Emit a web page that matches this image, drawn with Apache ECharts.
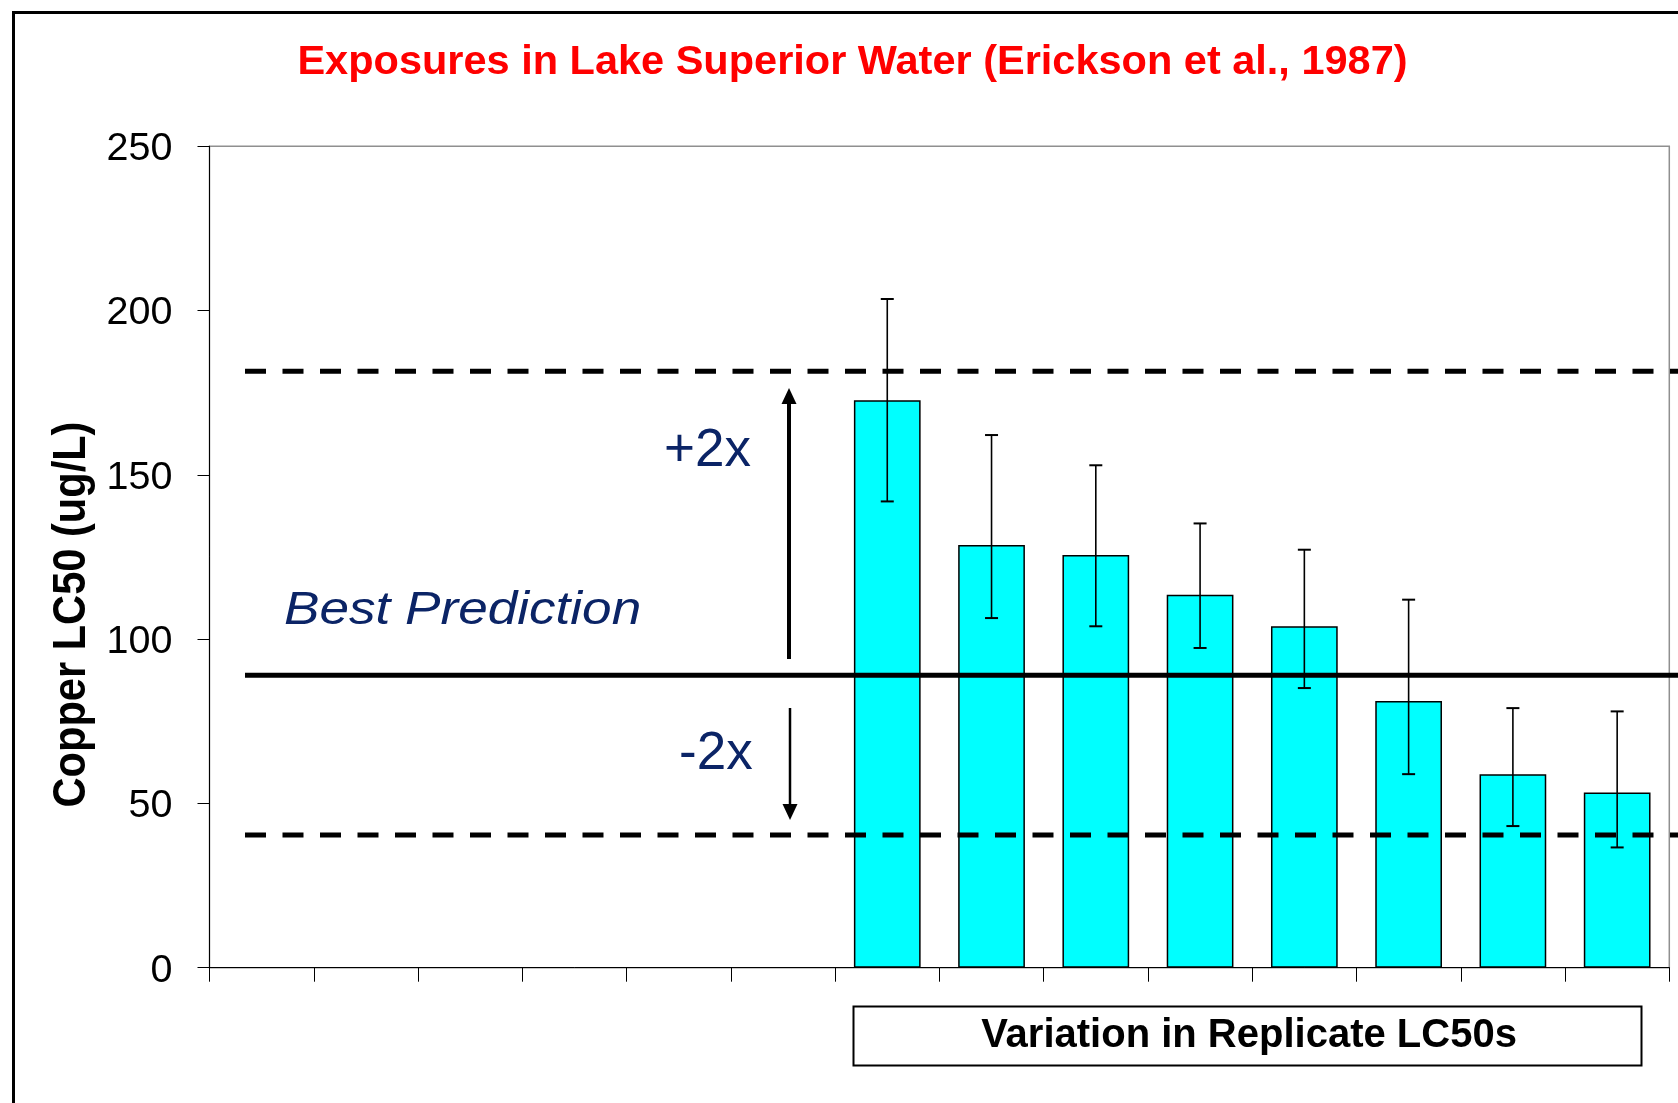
<!DOCTYPE html>
<html><head><meta charset="utf-8">
<script src="https://cdn.jsdelivr.net/npm/echarts@6/dist/echarts.min.js"></script>
<style>html,body{margin:0;padding:0;background:#fff;}#c{width:1678px;height:1103px;}</style>
</head><body><div id="c"></div>
<script>
// ---- data ----
const categories = ['1','2','3','4','5','6','7','8','9','10','11','12','13','14'];
const lc50    = [null,null,null,null,null,null,172.7,128.6,125.6,113.5,103.9,81.2,58.9,53.3];
const errHigh = [null,null,null,null,null,null,203.5,162.1,152.9,135.2,127.2,112.0,79.0,78.0];
const errLow  = [null,null,null,null,null,null,141.9,106.4,103.9,97.3,85.1,58.9,43.1,36.6];
const bestPrediction = 89.0;
const upperBound = 181.5;   // +2x
const lowerBound = 40.4;    // -2x
const yMin = 0, yMax = 250, yStep = 50;
const titleText = 'Exposures in Lake Superior Water (Erickson et al., 1987)';
const yAxisTitle = 'Copper LC50 (ug/L)';
const xAxisTitle = 'Variation in Replicate LC50s';

const FONT = 'Arial, "Liberation Sans", Helvetica, sans-serif';
const NAVY = '#0b2466';

const errData = [];
categories.forEach((c, i) => {
  if (errLow[i] != null && errHigh[i] != null) errData.push([i, errLow[i], errHigh[i]]);
});

const chart = echarts.init(document.getElementById('c'), null, {renderer: 'canvas'});

const option = {
  animation: false,
  backgroundColor: '#fff',
  grid: {left: 209.5, right: 8.7, top: 146.2, bottom: 135.3, show: true,
         borderColor: '#8f8f8f', borderWidth: 1.5, backgroundColor: 'transparent'},
  xAxis: {
    type: 'category', data: categories, boundaryGap: true,
    axisLine: {show: true, lineStyle: {color: '#000', width: 1}},
    axisTick: {show: true, length: 14, lineStyle: {color: '#000', width: 1}},
    axisLabel: {show: false}, splitLine: {show: false}
  },
  yAxis: {
    type: 'value', min: yMin, max: yMax, interval: yStep,
    axisLine: {show: true, lineStyle: {color: '#000', width: 1}},
    axisTick: {show: true, length: 12, lineStyle: {color: '#000', width: 1}},
    axisLabel: {show: true, fontSize: 39.5, fontFamily: FONT, color: '#000', margin: 37,
                verticalAlign: 'top', lineHeight: 6},
    splitLine: {show: false}
  },
  series: [
    {
      type: 'bar', data: lc50, barWidth: '64%', z: 2,
      itemStyle: {color: '#00ffff', borderColor: '#000', borderWidth: 1.5}
    },
    {
      type: 'custom', data: errData, z: 3,
      encode: {x: 0, y: [1, 2]},
      renderItem: function (params, api) {
        const x = api.value(0);
        const pLo = api.coord([x, api.value(1)]);
        const pHi = api.coord([x, api.value(2)]);
        const cap = 6.5;
        return {type: 'group', children: [
          {type: 'line', shape: {x1: pHi[0], y1: pHi[1], x2: pLo[0], y2: pLo[1]}, style: {stroke: '#000', lineWidth: 1.6}},
          {type: 'line', shape: {x1: pHi[0]-cap, y1: pHi[1], x2: pHi[0]+cap, y2: pHi[1]}, style: {stroke: '#000', lineWidth: 2}},
          {type: 'line', shape: {x1: pLo[0]-cap, y1: pLo[1], x2: pLo[0]+cap, y2: pLo[1]}, style: {stroke: '#000', lineWidth: 2}}
        ]};
      }
    }
  ]
};
chart.setOption(option);

const yPix = v => chart.convertToPixel({yAxisIndex: 0}, v);
const yBest = yPix(bestPrediction), yUp = yPix(upperBound), yLo = yPix(lowerBound);
const lineX0 = 245, lineX1 = 1678;

const graphics = [
  // outer frame
  {type: 'rect', z: 100, shape: {x: 13.5, y: 12.5, width: 2000, height: 2000},
   style: {fill: 'none', stroke: '#000', lineWidth: 3}},
  // title
  {type: 'text', z: 100, x: 852.5, y: 62.5,
   style: {text: titleText, font: 'bold 41.5px ' + FONT, fill: '#ff0000', textAlign: 'center', textVerticalAlign: 'middle'}},
  // y axis title
  {type: 'text', z: 100, x: 72.5, y: 614.5, rotation: Math.PI / 2, scaleX: 0.885,
   style: {text: yAxisTitle, font: 'bold 47px ' + FONT, fill: '#000', textAlign: 'center', textVerticalAlign: 'middle'}},
  // x axis title box
  {type: 'rect', z: 100, shape: {x: 853.5, y: 1006.5, width: 788, height: 59},
   style: {fill: '#fff', stroke: '#000', lineWidth: 2}},
  {type: 'text', z: 101, x: 1249, y: 1036,
   style: {text: xAxisTitle, font: 'bold 40px ' + FONT, fill: '#000', textAlign: 'center', textVerticalAlign: 'middle'}},
  // reference lines
  {type: 'line', z: 100, shape: {x1: lineX0, y1: yUp, x2: lineX1, y2: yUp},
   style: {stroke: '#000', lineWidth: 5, lineDash: [21, 16.5]}},
  {type: 'line', z: 100, shape: {x1: lineX0, y1: yLo, x2: lineX1, y2: yLo},
   style: {stroke: '#000', lineWidth: 5, lineDash: [21, 16.5]}},
  {type: 'line', z: 100, shape: {x1: lineX0, y1: yBest, x2: lineX1, y2: yBest},
   style: {stroke: '#000', lineWidth: 5}},
  // annotations
  {type: 'text', z: 100, x: 284, y: 611, scaleX: 1.13,
   style: {text: 'Best Prediction', font: 'italic 47px ' + FONT, fill: NAVY, textAlign: 'left', textVerticalAlign: 'middle'}},
  {type: 'text', z: 100, x: 664, y: 451,
   style: {text: '+2x', font: '53px ' + FONT, fill: NAVY, textAlign: 'left', textVerticalAlign: 'middle'}},
  {type: 'text', z: 100, x: 679, y: 754,
   style: {text: '-2x', font: '53px ' + FONT, fill: NAVY, textAlign: 'left', textVerticalAlign: 'middle'}},
  // up arrow
  {type: 'line', z: 100, shape: {x1: 789, y1: 659, x2: 789, y2: 400}, style: {stroke: '#000', lineWidth: 4}},
  {type: 'polygon', z: 100, shape: {points: [[789, 388], [781.5, 404], [796.5, 404]]}, style: {fill: '#000'}},
  // down arrow
  {type: 'line', z: 100, shape: {x1: 790, y1: 708, x2: 790, y2: 808}, style: {stroke: '#000', lineWidth: 2.5}},
  {type: 'polygon', z: 100, shape: {points: [[790, 820], [782.5, 804], [797.5, 804]]}, style: {fill: '#000'}}
];
chart.setOption({graphic: graphics});
</script>
</body></html>
